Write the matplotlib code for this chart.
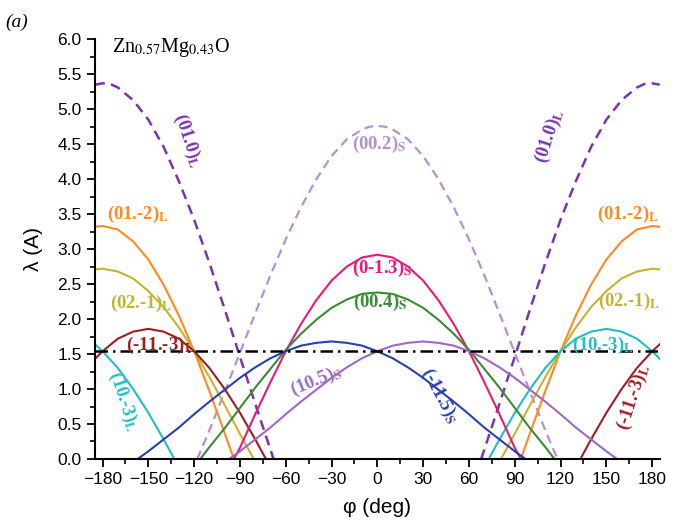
import matplotlib
matplotlib.use('Agg')
import matplotlib.pyplot as plt

plt.rcParams['mathtext.fontset'] = 'stix'
plt.rcParams['font.family'] = ['Liberation Sans', 'DejaVu Sans']

# ---- data (phi in deg, lambda in A) ----
phi_010_l = [-185, -180, -175, -170, -160, -150, -140, -130, -120, -110, -100, -90, -80, -70, -68]
lam_010_l = [5.35, 5.37, 5.36, 5.31, 5.13, 4.85, 4.46, 3.97, 3.42, 2.80, 2.14, 1.46, 0.79, 0.13, 0.0]
phi_010_r = [68, 70, 80, 90, 100, 110, 120, 130, 140, 150, 160, 170, 175, 180, 185]
lam_010_r = [0.0, 0.13, 0.79, 1.46, 2.14, 2.80, 3.42, 3.97, 4.46, 4.85, 5.13, 5.31, 5.36, 5.37, 5.35]

phi_002 = [-118, -110, -100, -90, -80, -70, -60, -50, -40, -30, -20, -10, -5, 0,
           5, 10, 20, 30, 40, 50, 60, 70, 80, 90, 100, 110, 118]
lam_002 = [0.0, 0.41, 0.96, 1.52, 2.08, 2.63, 3.14, 3.60, 4.00, 4.33, 4.57, 4.71, 4.75, 4.76,
           4.75, 4.71, 4.57, 4.33, 4.00, 3.60, 3.14, 2.63, 2.08, 1.52, 0.96, 0.41, 0.0]

phi_01m2_l = [-185, -180, -170, -160, -150, -140, -130, -120, -110, -100, -94]
lam_01m2_l = [3.32, 3.33, 3.28, 3.11, 2.85, 2.49, 2.05, 1.54, 0.97, 0.37, 0.0]
phi_01m2_r = [94, 100, 110, 120, 130, 140, 150, 160, 170, 180, 185]
lam_01m2_r = [0.0, 0.37, 0.97, 1.54, 2.05, 2.49, 2.85, 3.11, 3.28, 3.33, 3.32]

phi_02m1_l = [-185, -180, -170, -160, -150, -140, -130, -120, -110, -100, -90, -81]
lam_02m1_l = [2.71, 2.72, 2.68, 2.58, 2.40, 2.17, 1.88, 1.54, 1.17, 0.77, 0.36, 0.0]
phi_02m1_r = [81, 90, 100, 110, 120, 130, 140, 150, 160, 170, 180, 185]
lam_02m1_r = [0.0, 0.36, 0.77, 1.17, 1.54, 1.88, 2.17, 2.40, 2.58, 2.68, 2.72, 2.71]

phi_m11m3_l = [-185, -180, -170, -160, -150, -140, -130, -120, -110, -100, -90, -80, -73]
lam_m11m3_l = [1.43, 1.54, 1.72, 1.82, 1.86, 1.82, 1.72, 1.54, 1.30, 1.00, 0.66, 0.28, 0.0]
phi_m11m3_r = [133, 140, 150, 160, 170, 180, 185]
lam_m11m3_r = [0.0, 0.28, 0.66, 1.00, 1.30, 1.54, 1.64]

phi_10m3_l = [-185, -180, -170, -160, -150, -140, -133]
lam_10m3_l = [1.64, 1.54, 1.30, 1.00, 0.66, 0.28, 0.0]
phi_10m3_r = [73, 80, 90, 100, 110, 120, 130, 140, 150, 160, 170, 180, 185]
lam_10m3_r = [0.0, 0.28, 0.66, 1.00, 1.30, 1.54, 1.72, 1.82, 1.86, 1.82, 1.72, 1.54, 1.43]

phi_0m13 = [-94, -90, -80, -70, -60, -50, -40, -30, -20, -10, 0,
            10, 20, 30, 40, 50, 60, 70, 80, 90, 94]
lam_0m13 = [0.0, 0.16, 0.64, 1.10, 1.54, 1.93, 2.27, 2.55, 2.75, 2.88, 2.92,
            2.88, 2.75, 2.55, 2.27, 1.93, 1.54, 1.10, 0.64, 0.16, 0.0]

phi_004 = [-116, -110, -100, -90, -80, -70, -60, -50, -40, -30, -20, -10, 0,
           10, 20, 30, 40, 50, 60, 70, 80, 90, 100, 110, 116]
lam_004 = [0.0, 0.17, 0.44, 0.73, 1.02, 1.29, 1.56, 1.79, 1.99, 2.16, 2.28, 2.36, 2.38,
           2.36, 2.28, 2.16, 1.99, 1.79, 1.56, 1.29, 1.02, 0.73, 0.44, 0.17, 0.0]

phi_m115 = [-157, -150, -140, -130, -120, -110, -100, -90, -80, -70, -60, -50, -40, -30,
            -20, -10, 0, 10, 20, 30, 40, 50, 60, 70, 80, 90, 97]
lam_m115 = [0.0, 0.11, 0.28, 0.45, 0.64, 0.82, 0.99, 1.16, 1.31, 1.44, 1.54, 1.62, 1.66, 1.68,
            1.66, 1.62, 1.54, 1.44, 1.31, 1.16, 0.99, 0.82, 0.64, 0.45, 0.28, 0.11, 0.0]

phi_105 = [-97, -90, -80, -70, -60, -50, -40, -30, -20, -10, 0, 10, 20, 30,
           40, 50, 60, 70, 80, 90, 100, 110, 120, 130, 140, 150, 157]
lam_105 = [0.0, 0.11, 0.28, 0.45, 0.64, 0.82, 0.99, 1.16, 1.31, 1.44, 1.54, 1.62, 1.66, 1.68,
           1.66, 1.62, 1.54, 1.44, 1.31, 1.16, 0.99, 0.82, 0.64, 0.45, 0.28, 0.11, 0.0]

phi_ref = [-185, 185]
lam_ref = [1.54, 1.54]

# ---- colours ----
c_010 = '#7b35a8'
c_002 = '#b590d4'
c_01m2 = '#ff8a1f'
c_02m1 = '#c2b62e'
c_m11m3 = '#a11c22'
c_10m3 = '#22bfc2'
c_0m13 = '#e8197c'
c_004 = '#3a8c33'
c_m115 = '#2a3fb0'
c_105 = '#a067c6'

fig = plt.figure(figsize=(6.83, 5.30), dpi=100)
ax = fig.add_axes([0.139, 0.134, 0.827, 0.792])

lw = 1.5
ax.plot(phi_010_l, lam_010_l, color=c_010, lw=1.8, dashes=(4, 2.5))
ax.plot(phi_010_r, lam_010_r, color=c_010, lw=1.8, dashes=(4, 2.5))
ax.plot(phi_002, lam_002, color=c_002, lw=1.6, dashes=(4, 2.5))
ax.plot(phi_01m2_l, lam_01m2_l, color=c_01m2, lw=lw)
ax.plot(phi_01m2_r, lam_01m2_r, color=c_01m2, lw=lw)
ax.plot(phi_02m1_l, lam_02m1_l, color=c_02m1, lw=lw)
ax.plot(phi_02m1_r, lam_02m1_r, color=c_02m1, lw=lw)
ax.plot(phi_m11m3_l, lam_m11m3_l, color=c_m11m3, lw=lw)
ax.plot(phi_m11m3_r, lam_m11m3_r, color=c_m11m3, lw=lw)
ax.plot(phi_10m3_l, lam_10m3_l, color=c_10m3, lw=lw)
ax.plot(phi_10m3_r, lam_10m3_r, color=c_10m3, lw=lw)
ax.plot(phi_0m13, lam_0m13, color=c_0m13, lw=lw)
ax.plot(phi_004, lam_004, color=c_004, lw=lw)
ax.plot(phi_m115, lam_m115, color=c_m115, lw=lw)
ax.plot(phi_105, lam_105, color=c_105, lw=lw)
ax.plot(phi_ref, lam_ref, color='black', lw=1.8, dashes=(5, 2, 1, 2))

# ---- labels ----
serif = ['Liberation Serif', 'DejaVu Serif']
fs = 13.5
L_set = {'(01.0)', '(01.-2)', '(02.-1)', '(-11.-3)', '(10.-3)'}

def lab(x, y, s, c, rot=0):
    sub = 'L' if s in L_set else 'S'
    ax.text(x, y, s + r'$_\mathbf{%s}$' % sub, color=c,
            fontsize=fs, fontweight='bold', family=serif, rotation=rot,
            ha='center', va='center', rotation_mode='anchor')

lab(-124, 4.55, '(01.0)', c_010, -72)
lab(113, 4.62, '(01.0)', c_010, 72)
lab(1, 4.50, '(00.2)', c_002)
lab(-157, 3.50, '(01.-2)', c_01m2)
lab(164, 3.50, '(01.-2)', c_01m2)
lab(-155, 2.23, '(02.-1)', c_02m1)
lab(165, 2.25, '(02.-1)', c_02m1)
lab(-142, 1.63, '(-11.-3)', c_m11m3)
lab(168, 0.88, '(-11.-3)', c_m11m3, 72)
lab(-166, 0.82, '(10.-3)', c_10m3, -72)
lab(148, 1.63, '(10.-3)', c_10m3)
lab(3, 2.72, '(0-1.3)', c_0m13)
lab(2, 2.24, '(00.4)', c_004)
lab(-40, 1.12, '(10.5)', c_105, 22)
lab(41, 0.90, '(-11.5)', c_m115, -62)

ax.text(-174, 5.88, r'Zn$_{\mathrm{0.57}}$Mg$_{\mathrm{0.43}}$O', fontsize=14.5,
        family=serif, ha='left', va='center')
fig.text(0.008, 0.975, '(a)', fontsize=14, family=serif, style='italic',
         ha='left', va='top')

# ---- axes ----
ax.set_xlim(-185, 185)
ax.set_ylim(0, 6.0)
ax.set_xticks(range(-180, 181, 30))
ax.set_xticks(range(-165, 181, 30), minor=True)
ax.set_yticks([i * 0.5 for i in range(13)])
ax.set_yticks([0.25 + i * 0.5 for i in range(12)], minor=True)
ax.set_yticklabels(['%.1f' % (i * 0.5) for i in range(13)])
ax.tick_params(which='major', direction='out', length=6, width=1.3, labelsize=12.5)
ax.tick_params(which='minor', direction='out', length=3.5, width=1.2)
for s in ['top', 'right']:
    ax.spines[s].set_visible(False)
for s in ['left', 'bottom']:
    ax.spines[s].set_linewidth(1.5)
ax.set_xlabel('φ (deg)', fontsize=15, labelpad=8)
ax.set_ylabel('λ (A)', fontsize=15, labelpad=10)

fig.savefig('out.png', dpi=100)
